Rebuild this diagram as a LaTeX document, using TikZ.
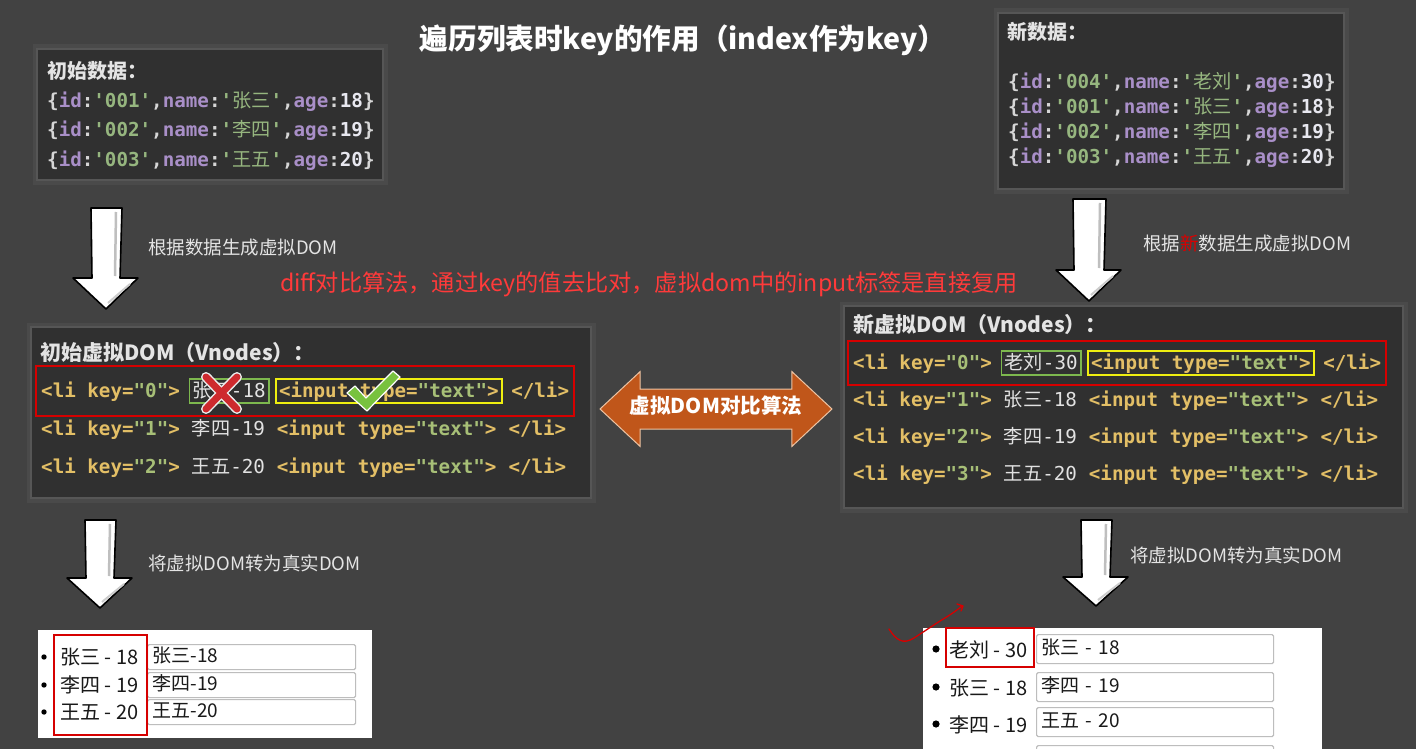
\documentclass[tikz,border=0pt]{standalone}
\usepackage{fontspec}
\setmainfont{Noto Sans CJK SC}
\setmonofont{DejaVu Sans Mono}
\newfontfamily\cjk{Noto Sans CJK SC}
\usetikzlibrary{shapes.arrows,fit}
\definecolor{bgc}{HTML}{424242}
\definecolor{boxc}{HTML}{303030}
\definecolor{glowc}{HTML}{565656}
\definecolor{glow2}{HTML}{4A4A4A}
\definecolor{cpunct}{HTML}{D6D6D6}
\definecolor{ckey}{HTML}{A98FC8}
\definecolor{cstr}{HTML}{96B67F}
\definecolor{cnum}{HTML}{E8E8F0}
\definecolor{cgold}{HTML}{E3BF66}
\definecolor{cval}{HTML}{A7BF77}
\definecolor{cname}{HTML}{E2E2E2}
\definecolor{cred}{HTML}{D60000}
\definecolor{credtxt}{HTML}{FF3A3A}
\definecolor{cgreen}{HTML}{7DB84E}
\definecolor{cyellow}{HTML}{EEEE10}
\definecolor{corange}{HTML}{C0561A}
\definecolor{cpeach}{HTML}{EDC4A4}
\definecolor{ctext}{HTML}{E4E4E4}
\definecolor{cinb}{HTML}{BDBDBD}
\definecolor{ccheck}{HTML}{78C23E}
\definecolor{cxred}{HTML}{CE2A2E}
\newcommand\codefs{\ttfamily\bfseries\fontsize{19.2}{23}\selectfont}
\newcommand\cdpu[1]{\textcolor{cpunct}{#1}}
\newcommand\cdky[1]{\textcolor{ckey}{#1}}
\newcommand\cdst[1]{\textcolor{cstr}{#1}}
\newcommand\cdnm[1]{\textcolor{cnum}{#1}}
\newcommand\cdtg[1]{\textcolor{cgold}{#1}}
\newcommand\cdvl[1]{\textcolor{cval}{#1}}
\newcommand\datarow[6]{%
  \node[code] (#1) at (#2,#3) {\cdpu{\{}\cdky{id}\cdpu{:}\cdst{'#4'}\cdpu{,}\cdky{name}\cdpu{:}\cdst{'{\cjk\mdseries #5}'}\cdpu{,}\cdky{age}\cdpu{:}\cdnm{#6}\cdpu{\}}};}
% #1 prefix, #2 x, #3 baseline y, #4 key, #5 cjk name, #6 number, #7 name-box style, #8 input-box style
\newcommand\lirow[8]{%
  \node[seg] (#1k) at (#2-3,#3) {\cdtg{<li key=}\cdvl{"#4"}\cdtg{>}};
  \node[#7] (#1n) at ([xshift=5.56pt]#1k.base east) {\textcolor{cname}{\mdseries{\cjk #5}-#6}};
  \node[#8] (#1i) at ([xshift=5.56pt]#1n.base east) {\cdtg{<input type=}\cdvl{"text"}\cdtg{>}};
  \node[seg] (#1c) at ([xshift=5.56pt]#1i.base east) {\cdtg{</li>}};}
\newcommand\bigdown[5]{% cx, top, head start, tip, half shaft
  \draw[bigarr] (#1-#5,#2) -- (#1+#5+1,#2) -- (#1+#5-1,#2+#3) -- (#1+32,#2+#3) -- (#1,#2+#4) -- (#1-33,#2+#3) -- (#1-#5+1,#2+#3) -- cycle;
  \draw[black!25, line width=2.5pt] (#1+#5-5,#2+4) -- (#1+#5-6,#2+#3-2);
  \draw[black!20, line width=2pt] (#1+24,#2+#3+6) -- (#1+2,#2+#4-6);}
\begin{document}
\begin{tikzpicture}[x=1pt,y=-1pt,
  panel/.style={fill=boxc, draw=glowc, line width=2pt, inner sep=0pt, anchor=north west,
    preaction={draw=glow2, line width=9pt}},
  code/.style={anchor=base west, inner sep=0pt, font=\codefs},
  seg/.style={anchor=base west, inner xsep=3pt, inner ysep=0pt, font=\codefs, text height=14pt, text depth=2pt},
  gbox/.style={seg, draw=cgreen, line width=1.8pt, inner ysep=4pt},
  ybox/.style={seg, draw=cyellow, line width=1.8pt, inner ysep=4pt},
  redfit/.style={draw=cred, line width=2.2pt, inner xsep=2pt},
  head/.style={anchor=base west, inner sep=0pt, text=ctext, font=\bfseries\fontsize{20}{24}\selectfont},
  note/.style={anchor=west, inner sep=0pt, text=ctext, font=\fontsize{18.5}{22}\selectfont},
  bigarr/.style={fill=white, draw=black, line width=1.6pt, line join=round},
  wpanel/.style={fill=white, draw=none, anchor=north west, inner sep=0pt},
  outtxt/.style={anchor=base west, inner sep=0pt, text=black!90, font=\fontsize{20}{24}\selectfont},
  inbox/.style={draw=cinb, line width=1.2pt, rounded corners=1.5pt, anchor=north west, inner xsep=5pt, inner ysep=0pt,
    text=black!90, font=\fontsize{19}{23}\selectfont, text height=14pt, text depth=4pt},
  selbox/.style={draw=cred, line width=1.8pt, anchor=north west, inner sep=0pt},
  bullet/.style={fill=black}
]
\useasboundingbox (0,0) rectangle (1416,749);
\fill[bgc] (0,0) rectangle (1416,749);

% title
\node[text=white, font=\bfseries\fontsize{28.6}{32}\selectfont, inner sep=0pt] (title) at (683,40) {遍历列表时key的作用（index作为key）};

% initial data box
\node[panel, minimum width=346, minimum height=131] (d0) at (36,48) {};
\node[head] (d0t) at (47,79) {初始数据：};
\datarow{d0a}{47}{108}{001}{张三}{18}
\datarow{d0b}{47}{137}{002}{李四}{19}
\datarow{d0c}{47}{166}{003}{王五}{20}

% new data box
\node[panel, minimum width=346, minimum height=176] (d1) at (997,12) {};
\node[head] (d1t) at (1007,40) {新数据：};
\datarow{d1a}{1008}{89}{004}{老刘}{30}
\datarow{d1b}{1008}{114}{001}{张三}{18}
\datarow{d1c}{1008}{139}{002}{李四}{19}
\datarow{d1d}{1008}{164}{003}{王五}{20}

% arrows + notes, upper
\bigdown{106}{208}{70}{101}{15}
\node[note] (n1) at (148,248) {根据数据生成虚拟DOM};
\bigdown{1089}{199}{71}{102}{16}
\node[note] (n2) at (1143,243) {根据\textcolor{red!85!black}{新}数据生成虚拟DOM};

% diff note
\node[anchor=west, inner sep=0pt, text=credtxt, font=\fontsize{23.2}{27}\selectfont] (diff) at (280,284) {diff对比算法，通过key的值去比对，虚拟dom中的input标签是直接复用};

% initial vnodes box
\node[panel, minimum width=560, minimum height=171] (v0) at (30,326) {};
\node[head, font=\bfseries\fontsize{21}{25}\selectfont] (v0t) at (40,360) {初始虚拟DOM（Vnodes）：};
\lirow{La}{41}{397}{0}{张三}{18}{gbox}{ybox}
\lirow{Lb}{41}{435}{1}{李四}{19}{seg}{seg}
\lirow{Lc}{41}{473}{2}{王五}{20}{seg}{seg}
\node[redfit, fit=(Lak)(Lac), inner ysep=17pt] (Lsel) {};

% cross and check marks
\draw[white!85!gray, line width=10pt, line cap=round] (206,377) -- (237,409) (237,377) -- (206,409);
\draw[cxred, line width=7pt, line cap=round] (206,377) -- (237,409) (237,377) -- (206,409);
\draw[fill=ccheck, draw=white, line width=1.2pt, line join=round]
  (347,393) -- (355,386) -- (366,398) -- (393,371) -- (400,377) -- (367,411) -- cycle;

% new vnodes box
\node[panel, minimum width=559, minimum height=202] (v1) at (843,305) {};
\node[head, font=\bfseries\fontsize{21}{25}\selectfont] (v1t) at (853,332) {新虚拟DOM（Vnodes）：};
\lirow{Ra}{853}{369}{0}{老刘}{30}{gbox}{ybox}
\lirow{Rb}{853}{406}{1}{张三}{18}{seg}{seg}
\lirow{Rc}{853}{443}{2}{李四}{19}{seg}{seg}
\lirow{Rd}{853}{480}{3}{王五}{20}{seg}{seg}
\node[redfit, fit=(Rak)(Rac), inner ysep=14pt] (Rsel) {};

% comparison double arrow
\node[double arrow, fill=corange, draw=cpeach, line width=1pt, minimum height=232pt,
  double arrow head extend=17.5pt, double arrow tip angle=86, inner xsep=4pt, inner ysep=10pt,
  text height=14pt, text depth=5pt, text=white, font=\bfseries\fontsize{20.5}{24}\selectfont] (cmp)
  at (716,409) {虚拟DOM对比算法};

% arrows + notes, lower
\bigdown{100}{520}{58}{88}{15}
\node[note] (n3) at (148,563) {将虚拟DOM转为真实DOM};
\bigdown{1096}{520}{57}{86}{15}
\node[note] (n4) at (1130,555) {将虚拟DOM转为真实DOM};

% real DOM, left
\node[wpanel, minimum width=334, minimum height=108] (r0) at (38,630) {};
\fill[bullet] (44,657) circle (2.7);
\fill[bullet] (44,685) circle (2.7);
\fill[bullet] (44,712) circle (2.7);
\node[outtxt] (r0a) at (60,664) {张三 - 18};
\node[outtxt] (r0b) at (60,692) {李四 - 19};
\node[outtxt] (r0c) at (60,719) {王五 - 20};
\node[inbox, text width=198pt, minimum height=25pt] (r0i1) at (147,644) {张三-18};
\node[inbox, text width=198pt, minimum height=25pt] (r0i2) at (147,672) {李四-19};
\node[inbox, text width=198pt, minimum height=25pt] (r0i3) at (147,699) {王五-20};
\node[selbox, minimum width=93, minimum height=100] (r0sel) at (53,634) {};

% real DOM, right
\begin{scope}
\clip (0,0) rectangle (1416,749);
\node[wpanel, minimum width=399, minimum height=130] (r1) at (923,628) {};
\fill[bullet] (936,649) circle (3.6);
\fill[bullet] (936,687) circle (3.6);
\fill[bullet] (936,724) circle (3.6);
\node[outtxt] (r1a) at (949,657) {老刘 - 30};
\node[outtxt] (r1b) at (949,695) {张三 - 18};
\node[outtxt] (r1c) at (949,732) {李四 - 19};
\node[inbox, text width=227pt, minimum height=29pt] (r1i1) at (1036,634) {张三 - 18};
\node[inbox, text width=227pt, minimum height=29pt] (r1i2) at (1036,672) {李四 - 19};
\node[inbox, text width=227pt, minimum height=29pt] (r1i3) at (1036,707) {王五 - 20};
\node[inbox, text width=227pt, minimum height=29pt] (r1i4) at (1036,745) {};
\node[selbox, minimum width=88, minimum height=39] (r1sel) at (945,627) {};
\end{scope}

% hand-drawn red tick
\draw[cred, line width=1.3pt, line cap=round, line join=round]
  (889,629) .. controls (896,640) and (903,645) .. (914,638) -- (940,621) .. controls (950,615) and (956,611) .. (962,606)
  (957,604) -- (963,606) -- (961,611);
\end{tikzpicture}
\end{document}
